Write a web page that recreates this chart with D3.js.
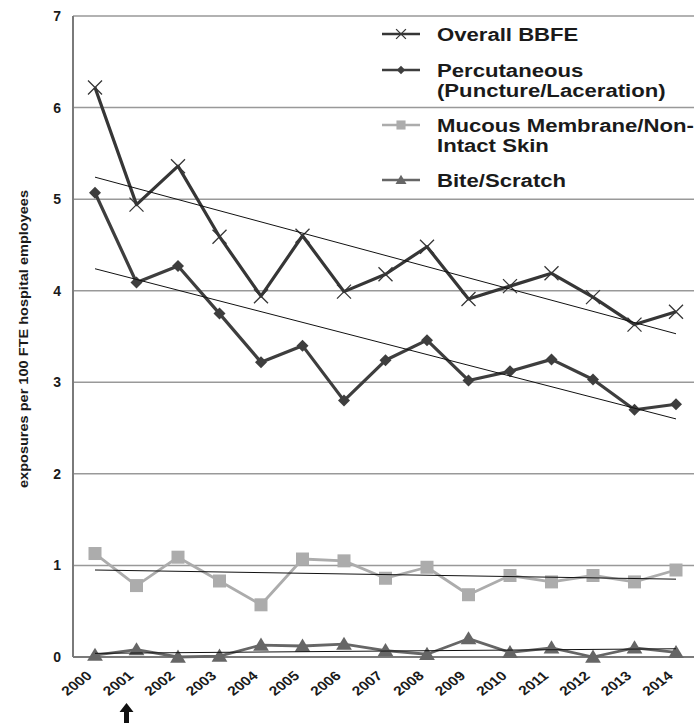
<!DOCTYPE html>
<html><head><meta charset="utf-8">
<script src="https://cdn.jsdelivr.net/npm/d3@7"></script>
<style>
html,body{margin:0;padding:0;background:#fff;}
text{font-family:"Liberation Sans",Arial,sans-serif;font-weight:bold;fill:#1a1a1a;}
</style></head>
<body>
<svg id="chart" width="697" height="723"></svg>
<script>
const years = [2000,2001,2002,2003,2004,2005,2006,2007,2008,2009,2010,2011,2012,2013,2014];
const overall = [6.22,4.94,5.36,4.59,3.94,4.60,3.99,4.18,4.48,3.91,4.05,4.19,3.93,3.63,3.77];
const percutaneous = [5.07,4.09,4.27,3.75,3.22,3.40,2.80,3.24,3.46,3.02,3.12,3.25,3.03,2.70,2.76];
const mucous = [1.13,0.78,1.09,0.83,0.57,1.07,1.05,0.86,0.98,0.68,0.89,0.82,0.89,0.82,0.95];
const bite = [0.02,0.08,0.00,0.01,0.13,0.12,0.14,0.07,0.03,0.20,0.05,0.10,0.00,0.10,0.05];
const trendOverall = [5.24,3.53];
const trendPercutaneous = [4.24,2.60];
const trendMucous = [0.95,0.85];
const trendBite = [0.04,0.09];
const yTicks = [0,1,2,3,4,5,6,7];
const legendLabels = [["Overall BBFE"],["Percutaneous","(Puncture/Laceration)"],["Mucous Membrane/Non-","Intact Skin"],["Bite/Scratch"]];
const yLabel = "exposures per 100 FTE hospital employees";

const svg = d3.select("#chart");
const axisX = 73, axisRight = 694, axisTop = 16, axisBottom = 657;
const x = d3.scalePoint().domain(years).range([95,676]);
const y = d3.scaleLinear().domain([0,7]).range([axisBottom,axisTop]);

// gridlines
svg.append("g").selectAll("line").data(yTicks.filter(d=>d>0)).join("line")
  .attr("x1",axisX).attr("x2",axisRight).attr("y1",d=>y(d)).attr("y2",d=>y(d))
  .attr("stroke","#999").attr("stroke-width",1.5);

// axes
svg.append("line").attr("x1",axisX).attr("x2",axisX).attr("y1",axisTop).attr("y2",axisBottom).attr("stroke","#7a7a7a").attr("stroke-width",2);
svg.append("line").attr("x1",axisX).attr("x2",axisRight).attr("y1",axisBottom).attr("y2",axisBottom).attr("stroke","#7a7a7a").attr("stroke-width",2);

// y tick labels
svg.append("g").selectAll("text").data(yTicks).join("text")
  .attr("x",61).attr("y",d=>y(d)+5).attr("text-anchor","end")
  .style("font-size","14px").text(d=>d);

// x tick labels
svg.append("g").selectAll("text").data(years).join("text")
  .attr("transform",d=>`translate(${x(d)-2},${axisBottom+20}) scale(1.2,1) rotate(-42)`)
  .attr("text-anchor","end").style("font-size","13px").text(d=>d);

// y axis label
svg.append("text")
  .attr("transform",`translate(28,339) rotate(-90)`)
  .attr("text-anchor","middle").style("font-size","13px")
  .attr("textLength",298).attr("lengthAdjust","spacingAndGlyphs")
  .text(yLabel);

// arrow under 2001
const ax = x(2001)-10;
svg.append("path")
  .attr("d",`M${ax},703 L${ax+7},712 L${ax+2.5},712 L${ax+2.5},723 L${ax-2.5},723 L${ax-2.5},712 L${ax-7},712 Z`)
  .attr("fill","#111");

const series = [
  {vals:overall, color:"#363636", width:3.2, marker:"x"},
  {vals:percutaneous, color:"#3e3e3e", width:3.2, marker:"diamond"},
  {vals:mucous, color:"#acacac", width:2.8, marker:"square"},
  {vals:bite, color:"#666", width:2.8, marker:"triangle"}
];
const trends = [trendOverall,trendPercutaneous,trendMucous,trendBite];

const line = d3.line().x((d,i)=>x(years[i])).y(d=>y(d));

function drawMarker(g, type, cx, cy, color, s){
  if(type==="x"){
    g.append("path").attr("d",`M${cx-s},${cy-s}L${cx+s},${cy+s}M${cx-s},${cy+s}L${cx+s},${cy-s}`)
      .attr("stroke",color).attr("stroke-width",1.3).attr("fill","none");
  } else if(type==="diamond"){
    g.append("path").attr("d",`M${cx},${cy-s}L${cx+s},${cy}L${cx},${cy+s}L${cx-s},${cy}Z`).attr("fill",color);
  } else if(type==="square"){
    g.append("rect").attr("x",cx-s).attr("y",cy-s).attr("width",2*s).attr("height",2*s).attr("fill",color);
  } else {
    g.append("path").attr("d",`M${cx},${cy-s}L${cx+s*1.05},${cy+s*0.75}L${cx-s*1.05},${cy+s*0.75}Z`).attr("fill",color);
  }
}
const markerSize = {x:7, diamond:6, square:6.5, triangle:7.5};

series.forEach(s=>{
  svg.append("path").datum(s.vals).attr("d",line).attr("fill","none")
    .attr("stroke",s.color).attr("stroke-width",s.width).attr("stroke-linejoin","round");
  const g = svg.append("g");
  s.vals.forEach((v,i)=>drawMarker(g,s.marker,x(years[i]),y(v),s.color,markerSize[s.marker]));
});

// trend lines
trends.forEach(t=>{
  svg.append("line").attr("x1",x(years[0])).attr("x2",x(years[years.length-1]))
    .attr("y1",y(t[0])).attr("y2",y(t[1])).attr("stroke","#111").attr("stroke-width",1);
});

// legend
const legendY = [34,70,125,180];
const lg = svg.append("g");
series.forEach((s,i)=>{
  const cy = legendY[i];
  lg.append("line").attr("x1",382).attr("x2",420).attr("y1",cy).attr("y2",cy)
    .attr("stroke",s.color).attr("stroke-width",2.5);
  drawMarker(lg,s.marker,401,cy,s.color,markerSize[s.marker]*0.7);
  legendLabels[i].forEach((t,j)=>{
    lg.append("text").attr("transform",`translate(437,${cy+6.5+j*20}) scale(1.23,1)`)
      .style("font-size","18px").text(t);
  });
});
</script>
</body></html>
